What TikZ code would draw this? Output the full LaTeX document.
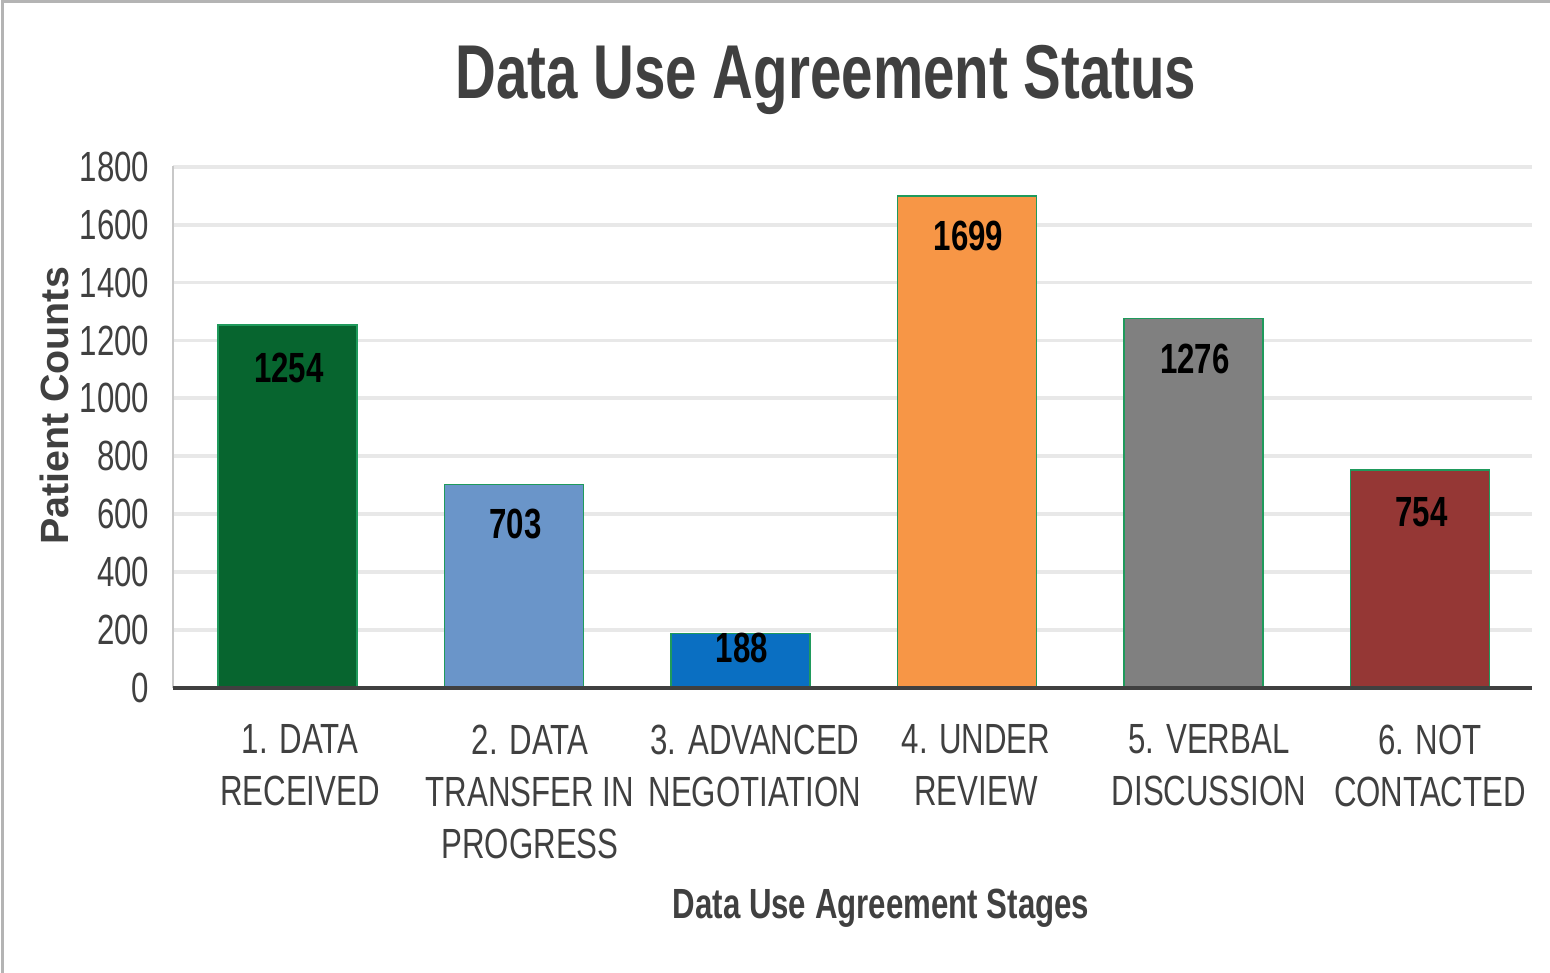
\documentclass[tikz,border=0pt]{standalone}
\usepackage{fontspec}
\setmainfont[FakeStretch=0.74]{Liberation Sans}
\newfontfamily\widesans{Liberation Sans}
\usetikzlibrary{positioning}
\definecolor{axisGrey}{HTML}{404040}
\definecolor{gridGrey}{HTML}{E8E8E8}
\definecolor{frameGrey}{HTML}{B4B4B4}
\definecolor{spineGrey}{HTML}{C8C8C8}
\definecolor{barEdge}{HTML}{1F9A5C}
\definecolor{barGreen}{HTML}{07652F}
\definecolor{barSky}{HTML}{6A95C9}
\definecolor{barBlue}{HTML}{0A6FC2}
\definecolor{barOrange}{HTML}{F79646}
\definecolor{barGrey}{HTML}{808080}
\definecolor{barRed}{HTML}{953735}
\tikzset{
  bar/.style={draw=barEdge, line width=0.5pt, fill=#1},
  gridline/.style={gridGrey, line width=1.1pt},
  ticklabel/.style={font=\fontsize{12}{14}\selectfont, text=axisGrey,
    anchor=east, inner sep=0pt},
  catlabel/.style={font=\fontsize{12}{14.8}\selectfont, text=axisGrey,
    align=center, anchor=north, inner sep=0pt},
  vallabel/.style={font=\fontsize{12}{14}\selectfont\bfseries, inner sep=0pt},
  axistitle/.style={font=\fontsize{12}{14}\selectfont\bfseries, text=axisGrey,
    inner sep=0pt}
}

\begin{document}
\begin{tikzpicture}[x=0.01cm,y=-0.01cm]
  % page is 1550 x 973 units, origin top left
  \useasboundingbox (0,0) rectangle (1550,973);
  \draw[frameGrey, line width=0.8pt] (2.5,973) -- (2.5,1.5) -- (1550,1.5);

  \node[font=\fontsize{21.7}{24}\selectfont\bfseries, text=axisGrey, anchor=base]
    (title) at (826,99) {Data Use Agreement Status};

  % grid and tick labels, 200 patients per step
  \foreach \t in {200,400,...,1800}
    \draw[gridline] (173,{688-\t*0.2896}) -- (1532,{688-\t*0.2896});
  \foreach \t [count=\k] in {0,200,...,1800}
    \node[ticklabel] (tick\k) at (150,{688-\t*0.2896}) {\t};

  % bars with their counts
  \foreach \v/\c/\ly [count=\i] in {1254/barGreen/368, 703/barSky/524,
      188/barBlue/648, 1699/barOrange/236, 1276/barGrey/359, 754/barRed/512}{
    \draw[bar=\c] ({173+(\i-1)*226.5+45},688) rectangle +(139,{-\v*0.2896});
    \node[vallabel] (val\i) at ({173+(\i-1)*226.5+116},\ly) {\v};
  }

  \draw[spineGrey, line width=0.5pt] (173,166) -- (173,688);
  \draw[axisGrey, line width=1.3pt] (173,688) -- (1532,688);

  % category names under the axis
  \node[catlabel] (cat1) at (300,724) {1. DATA\\RECEIVED};
  \node[catlabel] (cat2) at (530,724) {2. DATA\\TRANSFER IN\\PROGRESS};
  \node[catlabel] (cat3) at (755,724) {3. ADVANCED\\NEGOTIATION};
  \node[catlabel] (cat4) at (976,724) {4. UNDER\\REVIEW};
  \node[catlabel] (cat5) at (1209,724) {5. VERBAL\\DISCUSSION};
  \node[catlabel] (cat6) at (1430,724) {6. NOT\\CONTACTED};

  \node[axistitle, anchor=base] (xtitle) at (881,919) {Data Use Agreement Stages};
  \node[axistitle, font=\fontsize{11.2}{13}\selectfont\widesans\bfseries, rotate=90]
    (ytitle) at (54,406) {Patient Counts};
\end{tikzpicture}
\end{document}
